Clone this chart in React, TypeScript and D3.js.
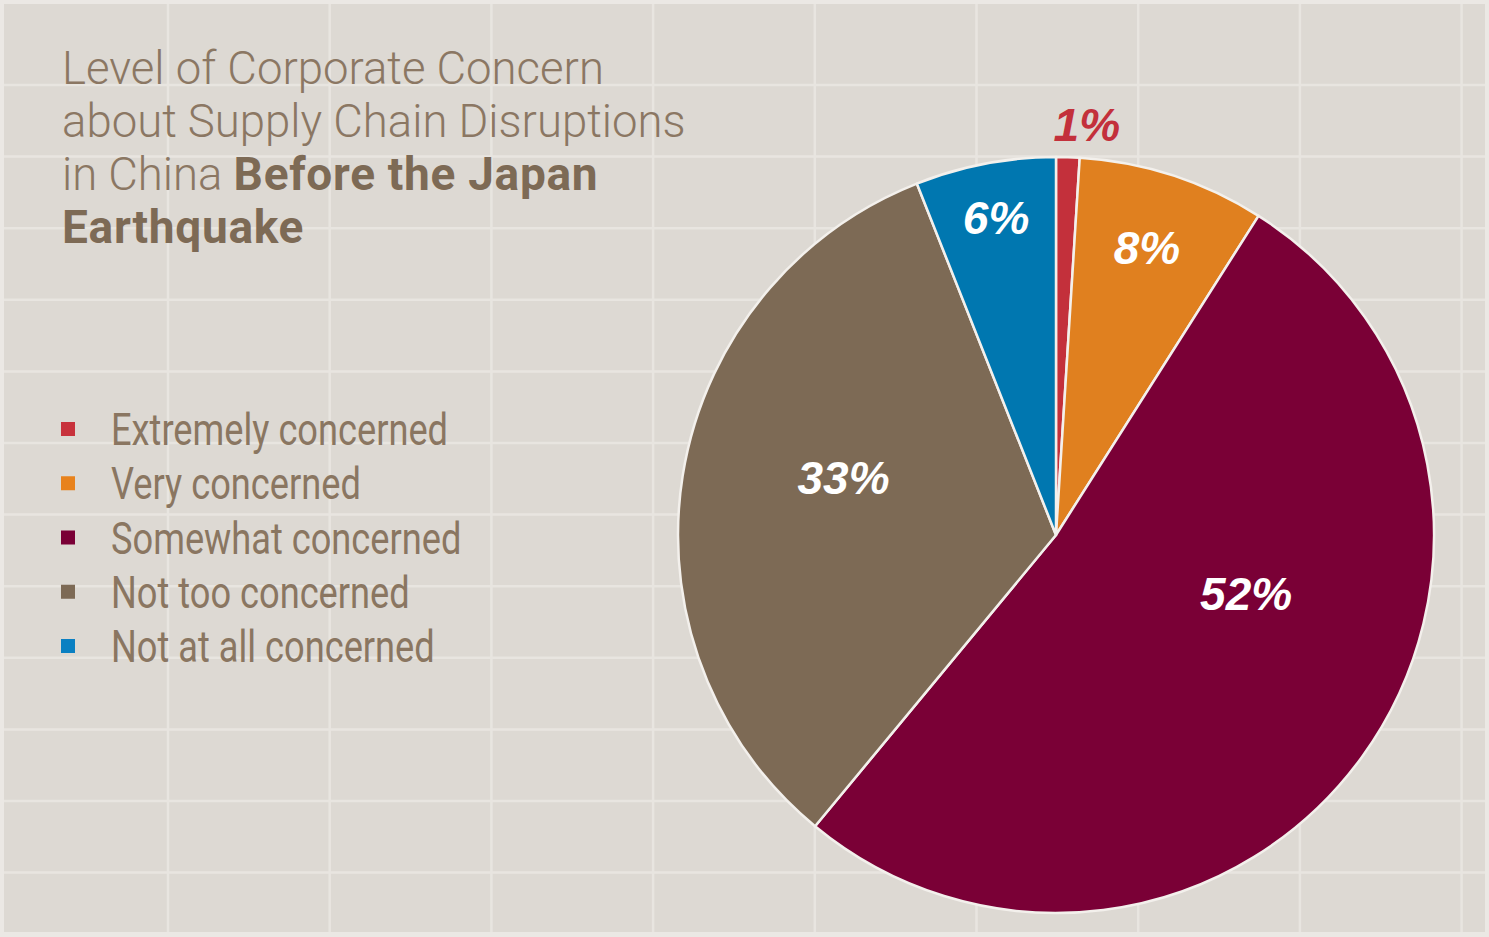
import React from "react";
import * as d3 from "d3";

const categories = [
  "Extremely concerned",
  "Very concerned",
  "Somewhat concerned",
  "Not too concerned",
  "Not at all concerned",
];
const values = [1, 8, 52, 33, 6];
const labels = ["1%", "8%", "52%", "33%", "6%"];
const colors = ["#c3303b", "#e0801f", "#7a0036", "#7d6a55", "#0077b0"];
const legendColors = ["#c8323c", "#e8821c", "#7a0036", "#7d6a55", "#0a80c2"];
const titleLines = [
  [{ t: "Level of Corporate Concern", b: false }],
  [{ t: "about Supply Chain Disruptions", b: false }],
  [
    { t: "in China ", b: false },
    { t: "Before the Japan", b: true },
  ],
  [{ t: "Earthquake", b: true }],
];

// layout (label placement: angle in degrees from 12 o'clock, radius in px)
const labelPlacement = [
  { a: 4.3, r: 411 },
  { a: 17.6, r: 301 },
  { a: 107.2, r: 199 },
  { a: 285, r: 220 },
  { a: 349.3, r: 323 },
];

const W = 1489;
const H = 937;
const cx = 1056;
const cy = 535;
const R = 378;

export default function App() {
  const pie = d3
    .pie<number>()
    .sort(null)
    .value((d) => d)
    .startAngle(0)
    .endAngle(2 * Math.PI);
  const arcs = pie(values);
  const arc = d3.arc<d3.PieArcDatum<number>>().innerRadius(0).outerRadius(R);

  const xs = d3.range(0, 10).map((i) => 168 + i * 161.7);
  const ys = d3.range(0, 12).map((i) => 85 + i * 71.6);

  const titleColor = "#8b7763";
  const boldColor = "#7d6a55";
  const legendY = d3
    .scalePoint<string>()
    .domain(categories)
    .range([429, 646]);

  return (
    <svg
      width={W}
      height={H}
      style={{ position: "absolute", left: 0, top: 0, display: "block" }}
    >
      <rect x={0} y={0} width={W} height={H} fill="#ebe8e4" />
      <rect x={4} y={4} width={W - 8} height={H - 9} fill="#ddd9d3" />
      <g stroke="#e8e5e0" strokeWidth={2.5}>
        {xs.map((x, i) => (
          <line key={"v" + i} x1={x} x2={x} y1={4} y2={H - 5} />
        ))}
        {ys.map((y, i) => (
          <line key={"h" + i} x1={4} x2={W - 4} y1={y} y2={y} />
        ))}
      </g>

      <g fontFamily="Roboto, 'Liberation Sans', sans-serif" fill={titleColor}>
        {titleLines.map((line, i) => (
          <text key={i} x={62} y={84 + i * 53}>
            {line.map((s, j) => (
              <tspan
                key={j}
                fontWeight={s.b ? 700 : 300}
                fontSize={s.b ? 46 : 45.5}
                letterSpacing={s.b ? 0.7 : 0}
                fill={s.b ? boldColor : titleColor}
              >
                {s.t}
              </tspan>
            ))}
          </text>
        ))}
      </g>

      <g>
        {categories.map((c, i) => (
          <g key={c}>
            <rect
              x={61}
              y={(legendY(c) as number) - 7}
              width={14}
              height={14}
              fill={legendColors[i]}
            />
            <text
              transform={`translate(111,${(legendY(c) as number) + 16}) scale(0.805,1)`}
              fontFamily="Roboto, 'Liberation Sans', sans-serif"
              fontSize={45}
              fill="#8a7661"
            >
              {c}
            </text>
          </g>
        ))}
      </g>

      <g transform={`translate(${cx},${cy})`}>
        {arcs.map((a, i) => (
          <path
            key={i}
            d={arc(a) as string}
            fill={colors[i]}
            stroke="#f3f0ec"
            strokeWidth={2.5}
            strokeLinejoin="round"
          />
        ))}
        {arcs.map((a, i) => {
          const p = labelPlacement[i];
          const ang = (p.a * Math.PI) / 180;
          const x = p.r * Math.sin(ang);
          const y = -p.r * Math.cos(ang);
          return (
            <text
              key={"l" + i}
              x={x}
              y={y}
              dy="0.35em"
              textAnchor="middle"
              fontFamily="'Liberation Sans', Arial, sans-serif"
              fontWeight={700}
              fontStyle="italic"
              fontSize={46}
              fill={i === 0 ? colors[0] : "#ffffff"}
            >
              {labels[i]}
            </text>
          );
        })}
      </g>
    </svg>
  );
}
